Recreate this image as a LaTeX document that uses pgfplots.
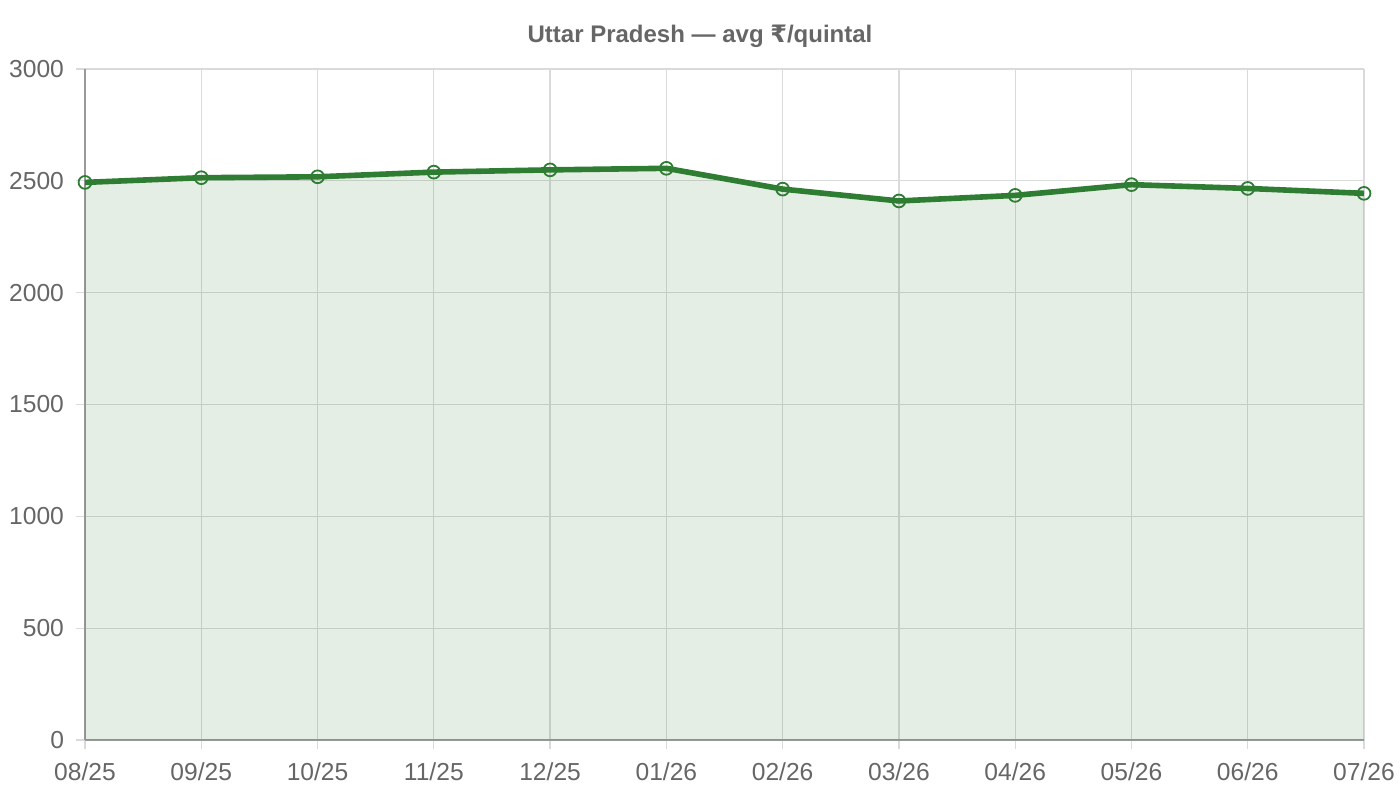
\documentclass[border=0pt]{standalone}
\usepackage{fontspec}
\setmainfont{Liberation Sans}
\newfontfamily\dejavu{DejaVu Sans}
\usepackage{pgfplots}
\pgfplotsset{compat=1.18}
\definecolor{lg}{HTML}{2E7D32}
\definecolor{txt}{HTML}{666666}
\definecolor{gridc}{HTML}{DADADA}
\definecolor{axc}{HTML}{999999}
\begin{document}
\begin{tikzpicture}
\path[use as bounding box] (-42.5pt,-30pt) rectangle (657.5pt,370pt);
\begin{axis}[
  scale only axis, width=639.5pt, height=335.5pt,
  xmin=0, xmax=11, ymin=0, ymax=3000,
  xtick={0,...,11},
  xticklabels={08/25,09/25,10/25,11/25,12/25,01/26,02/26,03/26,04/26,05/26,06/26,07/26},
  ytick={0,500,1000,1500,2000,2500,3000},
  grid=major, grid style={color=gridc, line width=0.6pt},
  axis x line*=bottom, axis y line*=left,
  axis line style={color=axc, line width=0.7pt, -},
  tick style={color=gridc, line width=0.6pt},
  major tick length=4.5pt, tick align=outside,
  ticklabel style={text=txt, font=\fontsize{12.3}{14}\selectfont},
  xticklabel style={yshift=-3.5pt},
  yticklabel style={xshift=-2.5pt, /pgf/number format/1000 sep={}},
  /pgf/number format/assume math mode=true,
  clip=false,
]
\addplot[fill=lg, fill opacity=0.13, draw=none, forget plot] coordinates {
(0,2493) (1,2514) (2,2518) (3,2539) (4,2549) (5,2556) (6,2463) (7,2410) (8,2435) (9,2483) (10,2466) (11,2444)
} \closedcycle;
\addplot[color=lg, line width=2.8pt, mark=o, mark size=3.2pt, mark options={line width=0.9pt, fill=none}] coordinates {
(0,2493) (1,2514) (2,2518) (3,2539) (4,2549) (5,2556) (6,2463) (7,2410) (8,2435) (9,2483) (10,2466) (11,2444)
};
\end{axis}
\node[text=txt, font=\bfseries\fontsize{12}{14}\selectfont] at (307.5pt,352pt) {Uttar Pradesh — avg {\dejavu\bfseries ₹}/quintal};
\end{tikzpicture}
\end{document}
